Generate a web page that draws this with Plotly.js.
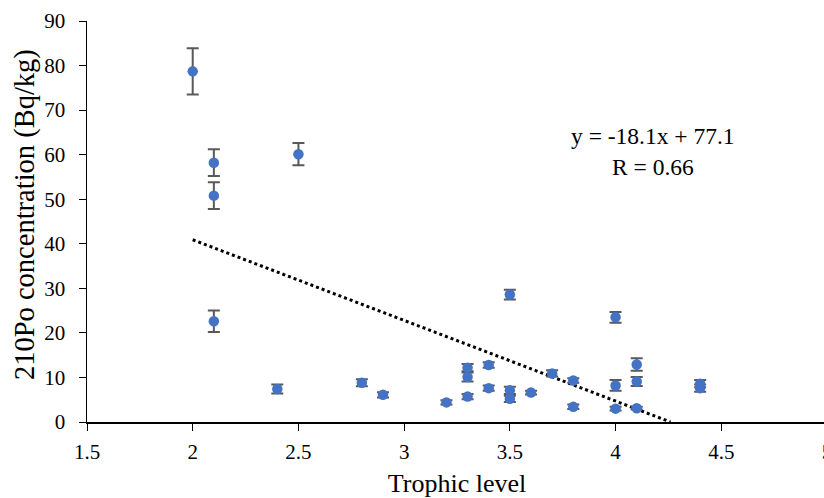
<!DOCTYPE html>
<html>
<head>
<meta charset="utf-8">
<script src="https://cdn.plot.ly/plotly-3.0.1.min.js"></script>
<style>
html,body{margin:0;padding:0;overflow:hidden;background:#fff;}
#chart{width:845px;height:498px;}
</style>
</head>
<body>
<div id="chart"></div>
<script>
// Data
const trophicLevel = [2.0, 2.1, 2.1, 2.5, 2.1, 2.4, 2.8, 2.9, 3.2, 3.3, 3.3, 3.3, 3.4, 3.4, 3.5, 3.5, 3.5, 3.6, 3.7, 3.8, 3.8, 4.0, 4.0, 4.0, 4.1, 4.1, 4.1, 4.4, 4.4];
const poConc       = [78.7, 58.2, 50.8, 60.1, 22.6, 7.4, 8.8, 6.1, 4.4, 5.7, 10.1, 12.2, 12.8, 7.6, 28.6, 7.1, 5.2, 6.6, 10.9, 9.3, 3.4, 23.5, 8.2, 3.0, 12.9, 9.1, 3.1, 8.6, 7.6];
const poErr        = [5.2, 3.0, 3.0, 2.5, 2.4, 1.0, 0.8, 0.6, 0.5, 0.6, 1.0, 0.8, 0.6, 0.6, 1.1, 0.8, 0.7, 0.4, 0.7, 0.5, 0.5, 1.2, 1.2, 0.4, 1.4, 1.0, 0.3, 0.8, 0.8];
const trendSlope = -18.1;
const trendIntercept = 77.1;
const trendXEnds = [2.0, 4.26];
const trendY = trendXEnds.map(x => trendSlope * x + trendIntercept);
const xTicks = [1.5, 2, 2.5, 3, 3.5, 4, 4.5, 5];
const yTicks = [0, 10, 20, 30, 40, 50, 60, 70, 80, 90];
const xTitle = 'Trophic level';
const yTitle = '210Po concentration (Bq/kg)';

const font = {family: '"Liberation Serif", "Times New Roman", serif', color: '#000'};
const L = 87, R = 827, T = 21, B = 422;
const px = x => (x - L) / (R - L);
const py = y => (B - y) / (B - T);

const traces = [
  {
    x: trendXEnds, y: trendY, mode: 'lines', type: 'scatter',
    line: {color: '#000', width: 3, dash: 'dot'},
    hoverinfo: 'skip', showlegend: false
  },
  {
    x: trophicLevel, y: poConc, mode: 'markers', type: 'scatter',
    marker: {color: '#4472C4', size: 10.5},
    error_y: {type: 'data', array: poErr, visible: true, color: '#595959', thickness: 2, width: 6},
    showlegend: false
  }
];

const layout = {
  width: 845, height: 498,
  margin: {l: L, r: 845 - R, t: T, b: 498 - B},
  paper_bgcolor: '#fff', plot_bgcolor: '#fff',
  font: Object.assign({size: 21}, font),
  xaxis: {
    range: [1.5, 5], tickvals: xTicks, ticktext: xTicks.map(String),
    showgrid: false, zeroline: false, showline: true, linecolor: '#000', linewidth: 1.5,
    ticks: 'outside', ticklen: 7, tickcolor: '#000', tickwidth: 1,
    ticklabelstandoff: 3,
    tickfont: Object.assign({size: 21}, font),
    title: {text: xTitle, font: Object.assign({size: 26}, font), standoff: 14}
  },
  yaxis: {
    range: [0, 90], tickvals: yTicks,
    showgrid: false, zeroline: false, showline: true, linecolor: '#000', linewidth: 1.5,
    ticks: 'outside', ticklen: 7, tickcolor: '#000', tickwidth: 1,
    ticklabelstandoff: 9,
    tickfont: Object.assign({size: 21}, font)
  },
  annotations: [
    {xref: 'paper', yref: 'paper', x: px(25), y: py(215), text: yTitle, textangle: -90,
     showarrow: false, xanchor: 'center', yanchor: 'middle', font: Object.assign({size: 28.5}, font)},
    {xref: 'paper', yref: 'paper', x: px(653), y: py(136), text: 'y = -18.1x + 77.1',
     showarrow: false, xanchor: 'center', yanchor: 'middle', font: Object.assign({size: 23.5}, font)},
    {xref: 'paper', yref: 'paper', x: px(653), y: py(167), text: 'R = 0.66',
     showarrow: false, xanchor: 'center', yanchor: 'middle', font: Object.assign({size: 23.5}, font)}
  ]
};

Plotly.newPlot('chart', traces, layout, {displayModeBar: false, staticPlot: true});
</script>
</body>
</html>
